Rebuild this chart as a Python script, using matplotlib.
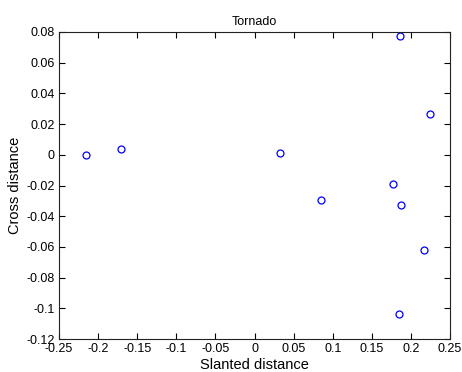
import matplotlib
matplotlib.use("Agg")
import matplotlib.pyplot as plt
from matplotlib.ticker import FuncFormatter

slanted = [-0.216, -0.171, 0.0326, 0.0854, 0.1767, 0.1873, 0.1865, 0.224, 0.2167, 0.1852]
cross = [0.0, 0.0041, 0.0013, -0.0293, -0.0193, -0.0324, 0.0777, 0.0265, -0.0623, -0.104]
xticks = [-0.25, -0.2, -0.15, -0.1, -0.05, 0, 0.05, 0.1, 0.15, 0.2, 0.25]
yticks = [-0.12, -0.1, -0.08, -0.06, -0.04, -0.02, 0, 0.02, 0.04, 0.06, 0.08]

plt.rcParams['font.family'] = ['Liberation Sans', 'DejaVu Sans']
plt.rcParams['axes.unicode_minus'] = False

fig = plt.figure(figsize=(4.62, 3.72), dpi=100)
ax = fig.add_axes([59/462, 33/372, (450-59)/462, (339-32)/372])
ax.plot(slanted, cross, linestyle='none', marker='o', markersize=5,
        markerfacecolor='none', markeredgecolor='#0000ff', markeredgewidth=0.9)
ax.set_xlim(-0.25, 0.25)
ax.set_ylim(-0.12, 0.08)
ax.set_xticks(xticks)
ax.set_yticks(yticks)
fmt = FuncFormatter(lambda v, p: '%g' % round(v, 4))
ax.xaxis.set_major_formatter(fmt)
ax.yaxis.set_major_formatter(fmt)
ax.tick_params(direction='in', length=4, width=0.8, labelsize=9, top=True, right=True,
               colors='#000000', pad=3)
for s in ax.spines.values():
    s.set_linewidth(0.8)
    s.set_color('#222222')
ax.set_xlabel('Slanted distance', fontsize=10.5, labelpad=2)
ax.set_ylabel('Cross distance', fontsize=10.5, labelpad=3)
ax.set_title('Tornado', fontsize=9, pad=5)
fig.savefig('out.png', dpi=100)
